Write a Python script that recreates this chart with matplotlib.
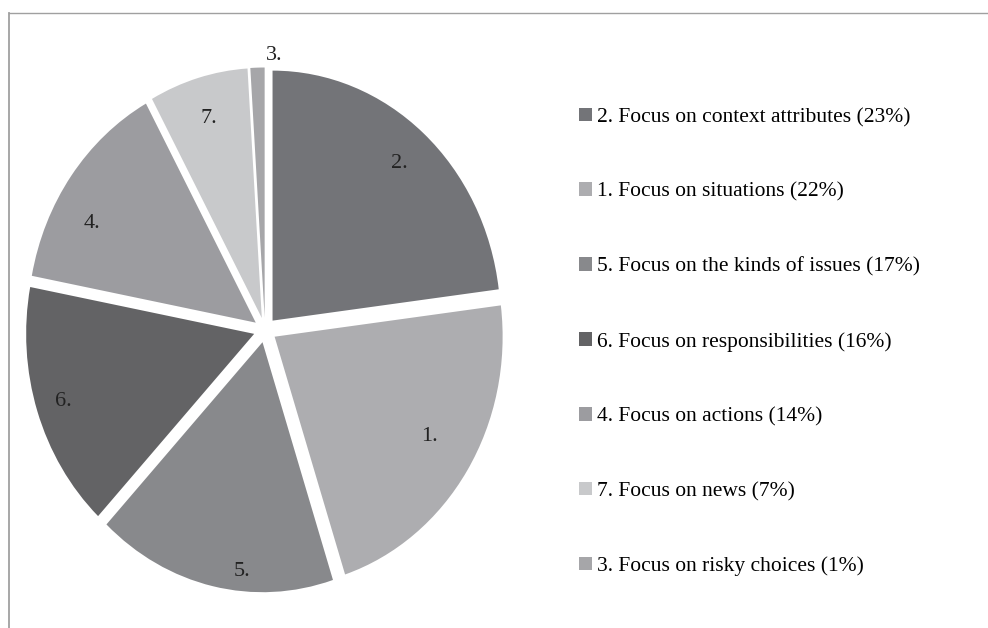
import numpy as np
import matplotlib
matplotlib.use('Agg')
import matplotlib.pyplot as plt
from matplotlib.patches import Patch
from matplotlib.lines import Line2D

plt.rcParams['font.family'] = ['Liberation Serif', 'DejaVu Serif']

# Data
labels = ['2.', '1.', '5.', '6.', '4.', '7.', '3.']
names = ['2. Focus on context attributes (23%)',
         '1. Focus on situations (22%)',
         '5. Focus on the kinds of issues (17%)',
         '6. Focus on responsibilities (16%)',
         '4. Focus on actions (14%)',
         '7. Focus on news (7%)',
         '3. Focus on risky choices (1%)']
shares = [23, 22, 17, 16, 14, 7, 1]
colors = ['#737478', '#adadb0', '#88898c', '#636365', '#9c9ca0', '#c8c9cb', '#a6a6a9']

W, H = 988, 628
fig = plt.figure(figsize=(W / 100, H / 100), dpi=100)

# pie axes over the whole figure, scaled in pixels
cx, cy = 265, 330      # centre, pixels from top-left
sx, sy = 228, 250      # radius in pixels (x, y)
ax = fig.add_axes([0, 0, 1, 1])
wedges, texts = ax.pie(shares, explode=[0.05] * len(shares), colors=colors,
                       startangle=90, counterclock=False, labels=labels,
                       wedgeprops=dict(linewidth=0),
                       textprops=dict(fontsize=16, color='#222222'))
ax.set_aspect('auto')
ax.set_xlim(-cx / sx, (W - cx) / sx)
ax.set_ylim(-(H - cy) / sy, cy / sy)
ax.axis('off')

# label placement per slice: distance from exploded centre, angle shift (deg)
dists = [0.84, 0.79, 0.92, 0.88, 0.82, 0.83, 1.05]
shifts = [0, 2, 7, 0, 7, 0, -4]
for w, t, d, s in zip(wedges, texts, dists, shifts):
    ang = np.deg2rad((w.theta1 + w.theta2) / 2 + s)
    ox, oy = w.center
    t.set_position((ox + d * np.cos(ang), oy + d * np.sin(ang)))
    t.set_ha('center')
    t.set_va('center')

# legend
handles = [Patch(facecolor=c, edgecolor='none') for c in colors]
fig.legend(handles, names, loc='upper left',
           bbox_to_anchor=(570 / W, 1 - 99 / H), frameon=False,
           fontsize=15.5, handlelength=0.6, handleheight=0.6,
           handletextpad=0.25, labelspacing=2.57, borderaxespad=0)

# frame lines (top and left)
fig.add_artist(Line2D([8.5 / W, 1], [1 - 13 / H, 1 - 13 / H], color='#a0a0a0', lw=1.0))
fig.add_artist(Line2D([8.5 / W, 8.5 / W], [0, 1 - 13 / H], color='#a0a0a0', lw=1.3))

fig.savefig('out.png', dpi=100, facecolor='white')
